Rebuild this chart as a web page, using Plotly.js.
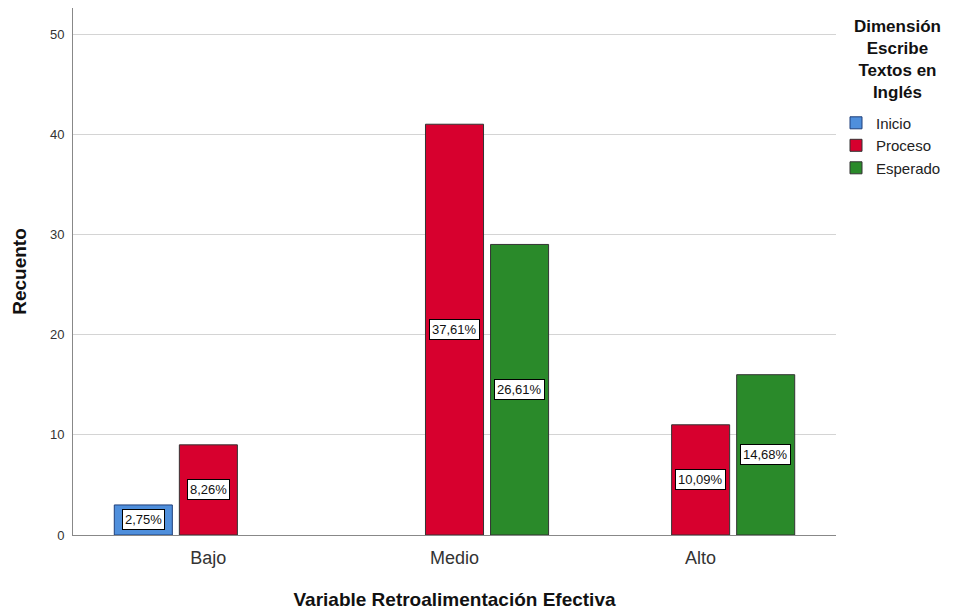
<!DOCTYPE html>
<html>
<head>
<meta charset="utf-8">
<script src="https://cdn.plot.ly/plotly-3.0.1.min.js"></script>
<style>html,body{margin:0;padding:0;background:#fff;}#chart{width:963px;height:615px;}</style>
</head>
<body>
<div id="chart"></div>
<script>
const categories = ["Bajo", "Medio", "Alto"];
const seriesNames = ["Inicio", "Proceso", "Esperado"];
const inicio = [3, null, null];
const proceso = [9, 41, 11];
const esperado = [null, 29, 16];
const inicioPct = ["2,75%", null, null];
const procesoPct = ["8,26%", "37,61%", "10,09%"];
const esperadoPct = [null, "26,61%", "14,68%"];
const yTicks = [0, 10, 20, 30, 40, 50];
const legendTitle = "Dimensión<br>Escribe<br>Textos en<br>Inglés";

const colors = ["#4f8fdc", "#d7002e", "#2a8a2a"];
const lineColors = ["#1f3f7a", "#333333", "#333333"];
const values = [inicio, proceso, esperado];
const pcts = [inicioPct, procesoPct, esperadoPct];

const traces = values.map((v, i) => ({
  type: "bar",
  name: seriesNames[i],
  x: categories,
  y: v,
  marker: {color: colors[i], line: {color: lineColors[i], width: 1}},
  hoverinfo: "skip"
}));

const slotPx = 65;
const annotations = [];
values.forEach((v, i) => {
  v.forEach((val, j) => {
    if (val == null) return;
    annotations.push({
      xref: "x", yref: "y",
      x: categories[j], y: val / 2,
      xshift: (i - 1) * slotPx,
      text: pcts[i][j],
      showarrow: false,
      font: {family: "Arial, Liberation Sans, sans-serif", size: 13, color: "#111"},
      bgcolor: "#ffffff",
      bordercolor: "#000000",
      borderwidth: 1,
      borderpad: 2
    });
  });
});
annotations.push({
  xref: "paper", yref: "paper",
  x: 1.08, y: 0.987, xanchor: "center", yanchor: "top",
  text: "<b>" + legendTitle + "</b>",
  align: "center",
  showarrow: false,
  font: {family: "Arial, Liberation Sans, sans-serif", size: 17, color: "#111"}
});

const layout = {
  width: 963, height: 615,
  margin: {l: 73, r: 127, t: 8, b: 80},
  paper_bgcolor: "#ffffff",
  plot_bgcolor: "#ffffff",
  barmode: "group",
  bargap: 0.207,
  bargroupgap: 0.108,
  font: {family: "Arial, Liberation Sans, sans-serif", color: "#222"},
  xaxis: {
    type: "category",
    range: [-0.55, 2.55],
    showgrid: false,
    showline: true, linecolor: "#888888", linewidth: 1,
    ticks: "", tickfont: {size: 18, color: "#333"},
    ticklabelstandoff: 6,
    title: {text: "<b>Variable Retroalimentación Efectiva</b>", font: {size: 19, color: "#111"}, standoff: 26},
    fixedrange: true
  },
  yaxis: {
    range: [0, 52.6],
    tickvals: yTicks,
    showgrid: true, gridcolor: "#d4d4d4", gridwidth: 1,
    zeroline: false,
    showline: true, linecolor: "#888888", linewidth: 1,
    ticks: "", tickfont: {size: 13, color: "#333"},
    ticklabelstandoff: 5,
    title: {text: "<b>Recuento</b>", font: {size: 19, color: "#111"}, standoff: 18},
    fixedrange: true
  },
  showlegend: true,
  legend: {
    x: 1.0, xanchor: "left", y: 0.813, yanchor: "top",
    font: {size: 15, color: "#222"},
    tracegroupgap: 0,
    itemwidth: 30
  },
  annotations: annotations
};

Plotly.newPlot("chart", traces, layout, {displayModeBar: false, staticPlot: true});
</script>
</body>
</html>
